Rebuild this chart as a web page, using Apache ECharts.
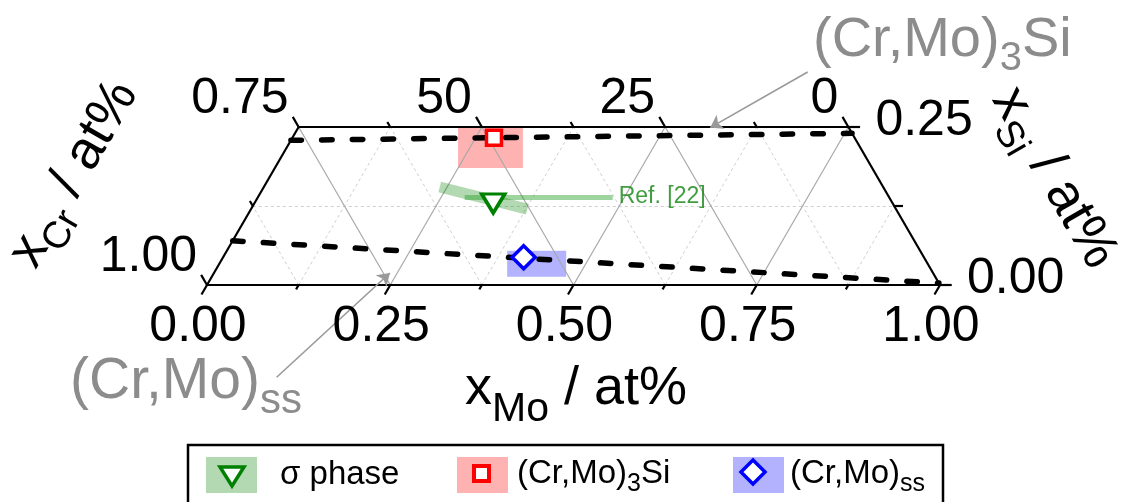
<!DOCTYPE html>
<html><head><meta charset="utf-8">
<script src="https://cdn.jsdelivr.net/npm/echarts@6/dist/echarts.min.js"></script>
<style>html,body{margin:0;padding:0;background:#fff}#c{width:1126px;height:502px}</style>
</head><body><div id="c"></div>
<script>
const FONT = "'Liberation Sans', Arial, Helvetica, sans-serif";
const S3 = Math.sqrt(3) / 2;
const SI_MAX = 0.25;

// ---- tick labels ----
const moTickValues = [0, 0.25, 0.5, 0.75, 1];
const moTickLabels = ['0.00', '0.25', '0.50', '0.75', '1.00'];
const crTickValues = [1.00, 0.75, 0.5, 0.25, 0];
const crTickLabels = ['1.00', '0.75', '50', '25', '0'];
const siTickValues = [0.25, 0.00];
const siTickLabels = ['0.25', '0.00'];

// ---- data, as [xMo, xSi] ----
const sigmaPoint = [0.326, 0.129];
const cr3SiPoint = [0.275, 0.233];
const ssPoint = [0.410, 0.044];
const cr3SiBox = [[0.250, 0.185], [0.306, 0.250]];
const ssBox = [[0.403, 0.013], [0.463, 0.054]];
const sigmaBand = [[0.240, 0.155], [0.377, 0.120]];
const ref22Line = [[0.282, 0.139], [0.484, 0.139]];
const boundaryCr3Si = [[0.000, 0.229], [0.760, 0.240]];
const boundarySS = [[0.000, 0.070], [0.997, 0.003]];
const arrowCr3Si = [[0.651, 0.337], [0.562, 0.249]];
const arrowSS = [[0.168, -0.146], [0.240, 0.019]];

const legendNames = ['σ phase', '(Cr,Mo){sub|3}Si', '(Cr,Mo){sub|ss}'];

// ternary -> cartesian
function toXY(mo, si) { return [mo + si / 2, si * S3]; }
function seg(a, b) { return { coords: [toXY(a[0], a[1]), toXY(b[0], b[1])] }; }
function crPos(c) { return c >= 0.75 ? [0, 1 - c] : [0.75 - c, SI_MAX]; }

// grid lines
const majorGrid = [], minorGrid = [];
for (let k = 1; k < 8; k++) {
  const v = k * 0.125;
  const major = (k % 2 === 0);
  const crLine = seg([1 - v, 0], v <= 0.75 ? [0.75 - v, SI_MAX] : [0, 1 - v]);
  const moLine = seg([v, 0], [v, Math.min(SI_MAX, 1 - v)]);
  (major ? majorGrid : minorGrid).push(crLine, moLine);
}
minorGrid.push(seg([0, 0.125], [0.875, 0.125]));

// frame
const frame = [
  seg([0, 0], [1, 0]), seg([1, 0], [0.75, SI_MAX]),
  seg([0.75, SI_MAX], [0, SI_MAX]), seg([0, SI_MAX], [0, 0])
];
// ticks
const ticks = [];
for (let k = 0; k <= 8; k++) {
  const m = k * 0.125, t = (k % 2 === 0) ? 0.015 : 0.007;
  ticks.push(seg([m, 0], [m, -t]));               // Mo ticks, down-left
}
for (let k = 0; k <= 8; k++) {
  const c = k * 0.125, t = (k % 2 === 0) ? 0.016 : 0.008;
  const p = crPos(c);
  ticks.push(seg(p, [p[0] - t, p[1] + t]));         // Cr ticks, up-left
}
for (let k = 0; k <= 2; k++) {
  const s = k * 0.125, t = (k % 2 === 0) ? 0.016 : 0.012;
  ticks.push(seg([1 - s, s], [1 - s + t, s]));      // Si ticks, right
}

function labelSeries(points, labels, opt) {
  return {
    type: 'scatter', symbolSize: 0, itemStyle: { color: '#000', opacity: 1 },
    silent: true, clip: false, z: 10,
    data: points.map((p, i) => ({ value: toXY(p[0], p[1]), name: labels[i] })),
    label: Object.assign({ show: true, position: 'inside', formatter: '{b}', color: '#000',
      textBorderWidth: 0, opacity: 1, fontSize: 50, fontFamily: FONT }, opt)
  };
}
function boxSeries(box, color) {
  const a = toXY(box[0][0], box[0][1]), b = toXY(box[1][0], box[1][1]);
  return {
    type: 'custom', clip: false, z: 2, silent: true,
    itemStyle: { color: color },
    data: [[a[0], a[1], b[0], b[1]]],
    renderItem: function (params, api) {
      const p1 = api.coord([api.value(0), api.value(1)]);
      const p2 = api.coord([api.value(2), api.value(3)]);
      return { type: 'rect', shape: { x: Math.min(p1[0], p2[0]), y: Math.min(p1[1], p2[1]),
        width: Math.abs(p2[0] - p1[0]), height: Math.abs(p2[1] - p1[1]) },
        style: { fill: api.visual('color') } };
    }
  };
}
function pointSeries(p, symbol, size, color, rot) {
  return {
    type: 'scatter', clip: false, z: 8, symbol: symbol, symbolSize: size, symbolRotate: rot || 0,
    itemStyle: { color: '#fff', borderColor: color, borderWidth: 3.5, opacity: 1 },
    data: [toXY(p[0], p[1])]
  };
}

// subscript: shifted down by `off` px
const subRich = (fs, off) => ({ sub: { fontSize: fs, fontFamily: FONT, verticalAlign: 'middle', padding: [2 * off, 0, 0, 0] } });

const option = {
  animation: false,
  backgroundColor: '#fff',
  grid: { left: 207, top: 127, width: 733, height: 158 },
  xAxis: { type: 'value', min: 0, max: 1, show: false },
  yAxis: { type: 'value', min: 0, max: SI_MAX * S3, show: false },
  series: [
    { type: 'lines', coordinateSystem: 'cartesian2d', clip: false, silent: true, z: 3,
      lineStyle: { color: '#cfcfcf', width: 1, type: [3, 3], opacity: 1 }, data: minorGrid },
    { type: 'lines', coordinateSystem: 'cartesian2d', clip: false, silent: true, z: 3,
      lineStyle: { color: '#a8a8a8', width: 1.2, opacity: 1 }, data: majorGrid },
    boxSeries(cr3SiBox, 'rgba(255,0,0,0.3)'),
    boxSeries(ssBox, 'rgba(0,0,255,0.3)'),
    { type: 'lines', coordinateSystem: 'cartesian2d', clip: false, silent: true, z: 4,
      lineStyle: { color: '#000', width: 2.2, opacity: 1 }, data: frame.concat(ticks) },
    { type: 'lines', coordinateSystem: 'cartesian2d', clip: false, silent: true, z: 5,
      lineStyle: { color: 'rgba(0,128,0,0.3)', width: 11, opacity: 1 }, data: [seg(sigmaBand[0], sigmaBand[1])] },
    { type: 'lines', coordinateSystem: 'cartesian2d', clip: false, silent: true, z: 5,
      lineStyle: { color: 'rgba(40,160,40,0.45)', width: 5, opacity: 1 }, data: [seg(ref22Line[0], ref22Line[1])] },
    { type: 'scatter', clip: false, z: 6, symbolSize: 0, itemStyle: { color: '#138a13' },
      data: [{ value: toXY(ref22Line[1][0], ref22Line[1][1]), name: 'Ref. [22]' }],
      label: { show: true, position: 'right', distance: 6, formatter: '{b}', color: '#108510', fontSize: 23, fontFamily: FONT } },
    { type: 'lines', coordinateSystem: 'cartesian2d', clip: false, silent: true, z: 6,
      lineStyle: { color: '#000', width: 5.5, type: [10.5, 20.2], cap: 'round', opacity: 1 },
      data: [seg(boundaryCr3Si[0], boundaryCr3Si[1]), seg(boundarySS[0], boundarySS[1])] },
    { type: 'lines', coordinateSystem: 'cartesian2d', clip: false, silent: true, z: 7,
      symbol: ['none', 'arrow'], symbolSize: 12,
      lineStyle: { color: '#999', width: 1.6, opacity: 1 },
      data: [seg(arrowCr3Si[0], arrowCr3Si[1]), seg(arrowSS[0], arrowSS[1])] },
    pointSeries(cr3SiPoint, 'rect', 15, '#ff0000'),
    pointSeries(sigmaPoint, 'triangle', [23, 19], '#008000', 180),
    pointSeries(ssPoint, 'diamond', [23, 23], '#0000ff'),
    labelSeries(moTickValues.map(m => [m, 0]), moTickLabels, { offset: [-9, 42], align: 'center', verticalAlign: 'middle' }),
    labelSeries(crTickValues.map(crPos), crTickLabels, { offset: [-10, -28], align: 'right', verticalAlign: 'middle' }),
    labelSeries(siTickValues.map(s => [1 - s, s]), siTickLabels, { offset: [27, -6], align: 'left', verticalAlign: 'middle' })
  ],
  graphic: [
    // axis titles
    { type: 'text', x: 576, y: 389, silent: true, style: { text: 'x{sub|Mo} / at%', fontSize: 54, fontFamily: FONT, fill: '#000',
      align: 'center', verticalAlign: 'middle', rich: subRich(41, 21) } },
    { type: 'text', x: 74, y: 174, rotation: Math.PI / 3, silent: true, style: { text: 'x{sub|Cr} / at%', fontSize: 54, fontFamily: FONT, fill: '#000',
      align: 'center', verticalAlign: 'middle', rich: subRich(38, 18) } },
    { type: 'text', x: 1054, y: 178, rotation: -Math.PI / 3, silent: true, style: { text: 'x{sub|Si} / at%', fontSize: 54, fontFamily: FONT, fill: '#000',
      align: 'center', verticalAlign: 'middle', rich: subRich(38, 18) } },
    // annotations
    { type: 'text', x: 813, y: 41, silent: true, style: { text: '(Cr,Mo){sub|3}Si', fontSize: 56, fontFamily: FONT, fill: '#8c8c8c',
      align: 'left', verticalAlign: 'middle', rich: subRich(40, 18) } },
    { type: 'text', x: 70, y: 382, silent: true, style: { text: '(Cr,Mo){sub|ss}', fontSize: 57, fontFamily: FONT, fill: '#8c8c8c',
      align: 'left', verticalAlign: 'middle', rich: subRich(42, 19) } },
    // legend
    { type: 'group', silent: true, children: [
      { type: 'rect', shape: { x: 188, y: 445, width: 755, height: 80 }, style: { fill: '#fff', stroke: '#000', lineWidth: 2.5 } },
      { type: 'rect', shape: { x: 206, y: 457, width: 51, height: 36 }, style: { fill: 'rgba(0,128,0,0.3)' } },
      { type: 'polygon', shape: { points: [[220, 467], [244, 467], [232, 486]] }, style: { fill: '#fff', stroke: '#008000', lineWidth: 3.5 } },
      { type: 'text', x: 280, y: 475, style: { text: legendNames[0], fontSize: 33, fontFamily: FONT, fill: '#000', verticalAlign: 'middle' } },
      { type: 'rect', shape: { x: 457, y: 457, width: 51, height: 36 }, style: { fill: 'rgba(255,0,0,0.3)' } },
      { type: 'rect', shape: { x: 474, y: 466, width: 15, height: 15 }, style: { fill: '#fff', stroke: '#ff0000', lineWidth: 4 } },
      { type: 'text', x: 517, y: 474, style: { text: legendNames[1], fontSize: 33, fontFamily: FONT, fill: '#000', verticalAlign: 'middle',
        rich: subRich(25, 10) } },
      { type: 'rect', shape: { x: 733, y: 457, width: 51, height: 36 }, style: { fill: 'rgba(0,0,255,0.3)' } },
      { type: 'polygon', shape: { points: [[753, 460], [765, 472], [753, 484], [741, 472]] }, style: { fill: '#fff', stroke: '#0000ff', lineWidth: 3.5 } },
      { type: 'text', x: 790, y: 474, style: { text: legendNames[2], fontSize: 33, fontFamily: FONT, fill: '#000', verticalAlign: 'middle',
        rich: subRich(25, 10) } }
    ] }
  ]
};
const chart = echarts.init(document.getElementById('c'), null, { renderer: 'canvas' });
chart.setOption(option);
</script></body></html>
